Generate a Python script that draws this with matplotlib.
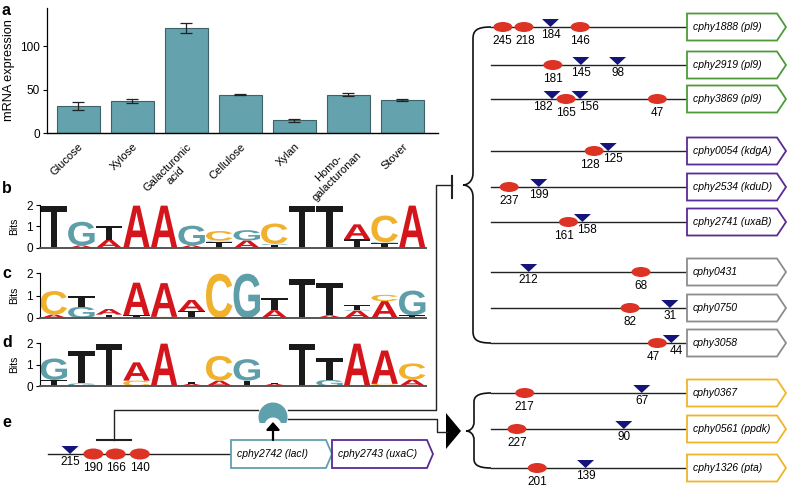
import numpy as np
import matplotlib
matplotlib.use('Agg')
import matplotlib.pyplot as plt
from matplotlib.textpath import TextPath
from matplotlib.font_manager import FontProperties
from matplotlib.patches import PathPatch, Ellipse, Polygon
from matplotlib.path import Path

plt.rcParams['font.family'] = ['Liberation Sans', 'DejaVu Sans']

# ---- panel a: expression of cphy2742 on each substrate
substrates = ['Glucose', 'Xylose', 'Galacturonic\nacid', 'Cellulose', 'Xylan',
              'Homo-\ngalacturonan', 'Stover']
expression = [31, 36.5, 121, 44, 14.5, 44, 38]
expression_err = [4.5, 2.2, 5.5, 0.5, 1.8, 1.5, 1.0]

# ---- panels b-d: sequence logos, each column bottom -> top (letter, bits)
logo_b = [[('T', 1.97)], [('A', 0.12), ('G', 1.1)], [('A', 0.38), ('T', 0.65)],
          [('A', 1.97)], [('A', 1.97)], [('A', 0.12), ('G', 0.92)],
          [('T', 0.3), ('G', 0.04), ('C', 0.45)], [('A', 0.35), ('G', 0.48)],
          [('T', 0.15), ('G', 0.04), ('C', 0.95)], [('T', 1.97)], [('T', 1.97)],
          [('T', 0.4), ('A', 0.7)], [('T', 0.22), ('G', 0.04), ('C', 1.25)], [('A', 1.97)]]
logo_c = [[('A', 0.15), ('C', 1.05)], [('G', 0.5), ('T', 0.48)], [('T', 0.15), ('A', 0.25)],
          [('T', 0.12), ('A', 1.45)], [('C', 0.05), ('A', 1.5)], [('T', 0.3), ('A', 0.5)],
          [('C', 1.97)], [('G', 1.97)], [('A', 0.35), ('T', 0.52)], [('C', 0.04), ('T', 1.7)],
          [('A', 0.12), ('T', 1.45)], [('A', 0.33), ('G', 0.03), ('T', 0.2)],
          [('A', 0.75), ('C', 0.28)], [('T', 0.12), ('G', 1.1)]]
logo_d = [[('T', 0.28), ('G', 1.0)], [('G', 0.12), ('T', 1.5)], [('T', 1.97)],
          [('C', 0.25), ('A', 0.85)], [('A', 1.97)], [('A', 0.1), ('T', 0.08)],
          [('A', 0.25), ('C', 1.15)], [('T', 0.25), ('G', 1.0)], [('A', 0.1), ('T', 0.05)],
          [('T', 1.97)], [('G', 0.28), ('T', 1.0)], [('A', 1.97)],
          [('C', 0.1), ('A', 1.55)], [('A', 0.3), ('C', 0.75)]]

# ---- right side: promoters with binding sites (bp upstream)
genes = ['cphy1888', 'cphy2919', 'cphy3869', 'cphy0054', 'cphy2534', 'cphy2741',
         'cphy0431', 'cphy0750', 'cphy3058', 'cphy0367', 'cphy0561', 'cphy1326']
gene_names = ['pl9', 'pl9', 'pl9', 'kdgA', 'kduD', 'uxaB', '', '', '', '', 'ppdk', 'pta']
gene_group = [0, 0, 0, 1, 1, 1, 2, 2, 2, 3, 3, 3]
red_sites = [[245, 218, 146], [181], [165, 47], [128], [237], [161], [68], [82], [47],
             [217], [227], [201]]
blue_sites = [[184], [145, 98], [182, 156], [125], [199], [158], [212], [31], [44],
              [67], [90], [139]]

# ---- panel e: cphy2742 operon
e_red_sites = [190, 166, 140]
e_blue_sites = [215]
e_genes = ['cphy2742', 'cphy2743']
e_names = ['lacI', 'uxaC']

# styles
W, H = 788, 490
BAR_COLOR = '#64a2ae'
LETTER_COLORS = {'A': '#d4151b', 'C': '#f0b22e', 'G': '#5e9ea9', 'T': '#1a1a1a'}
GROUP_COLORS = ['#4e9a3a', '#5a2a96', '#8c8c8c', '#f0b429']
RED = '#dc3325'
NAVY = '#14147a'
TEAL = '#5fa0ad'
LETTER_FONT = FontProperties(family='Liberation Sans', weight='bold')

fig = plt.figure(figsize=(W / 100, H / 100), dpi=100)


def px_axes(x0, y0, x1, y1):
    return fig.add_axes([x0 / W, 1 - y1 / H, (x1 - x0) / W, (y1 - y0) / H])


# panel a
ax = px_axes(47, 8, 438, 133)
xpos = np.arange(len(substrates))
ax.bar(xpos, expression, width=0.8, color=BAR_COLOR, edgecolor='#3e6269', lw=0.8,
       yerr=expression_err, capsize=4,
       error_kw=dict(elinewidth=0.9, capthick=0.9, ecolor='#222222'))
ax.set_xlim(-0.58, 6.66)
ax.set_ylim(0, 143.7)
ax.set_yticks([0, 50, 100])
ax.set_xticks(xpos)
ax.set_xticklabels(substrates, rotation=45, ha='right', va='top',
                   rotation_mode='anchor', fontsize=8, multialignment='center')
ax.tick_params(axis='x', length=0, pad=6)
ax.tick_params(axis='y', length=3, width=0.8, labelsize=8.5, pad=2)
for s in ['top', 'right']:
    ax.spines[s].set_visible(False)
ax.spines['left'].set_linewidth(0.9)
ax.spines['bottom'].set_linewidth(1.0)
ax.set_ylabel('mRNA expression', fontsize=9.2, labelpad=4)


# panels b-d
def draw_logo(columns, y_top, y_bot):
    lax = px_axes(40, y_top, 426, y_bot)
    for i, col in enumerate(columns):
        base = 0.0
        for ch, h in col:
            tp = TextPath((0, 0), ch, size=1, prop=LETTER_FONT)
            bb = tp.get_extents()
            v = tp.vertices.copy()
            v[:, 0] = i + 0.52 + (v[:, 0] - bb.x0) / bb.width * 0.96
            v[:, 1] = base + (v[:, 1] - bb.y0) / bb.height * h
            lax.add_patch(PathPatch(Path(v, tp.codes), fc=LETTER_COLORS[ch],
                                    ec='none', lw=0))
            base += h
    lax.set_xlim(0.5, len(columns) + 0.5)
    lax.set_ylim(0, 2)
    lax.set_yticks([0, 1, 2])
    lax.set_xticks([])
    for s in ['top', 'right']:
        lax.spines[s].set_visible(False)
    lax.spines['bottom'].set_color('#555555')
    lax.spines['bottom'].set_linewidth(1.4)
    lax.spines['left'].set_linewidth(0.8)
    lax.tick_params(axis='y', length=3, width=0.8, labelsize=8.5, pad=2)
    lax.set_ylabel('Bits', fontsize=7.5, labelpad=5)
    lax.patch.set_alpha(0)
    return lax


draw_logo(logo_b, 205, 248)
draw_logo(logo_c, 273, 318)
draw_logo(logo_d, 343, 386)

# overlay in pixel coordinates
ov = fig.add_axes([0, 0, 1, 1])
ov.set_xlim(0, W)
ov.set_ylim(H, 0)
ov.axis('off')
ov.patch.set_alpha(0)

for lab, (lx, ly) in zip('abcde', [(2, 15), (2, 193), (2, 278), (2, 347), (2, 427)]):
    ov.text(lx, ly, lab, fontsize=11.5, fontweight='bold', va='baseline', ha='left')

LW = 1.0


def gene_box(x0, x1, y, label, color, h=27, tip=9):
    pts = [(x0, y - h / 2), (x1, y - h / 2), (x1 + tip, y), (x1, y + h / 2), (x0, y + h / 2)]
    ov.add_patch(Polygon(pts, closed=True, fc='white', ec=color, lw=1.3, zorder=3))
    ov.text(x0 + 6, y, label, fontsize=7.5, style='italic', va='center', ha='left', zorder=4)


def gene_label(g, n):
    return g + ' (' + n + ')' if n else g


def place_sites(reds, blues, scale, min_sep=14):
    items = [(scale(p), p, 'r') for p in reds] + [(scale(p), p, 'b') for p in blues]
    items.sort()
    out = []
    for x, p, k in items:
        if out and x - out[-1][0] < min_sep and k != out[-1][2]:
            x = out[-1][0] + min_sep
        out.append((x, p, k))
    return out


def spread_labels(xs, gap=23):
    groups = [[x] for x in xs]
    while True:
        pos = []
        for g in groups:
            c = np.mean(g)
            pos.append([c + (i - (len(g) - 1) / 2) * gap for i in range(len(g))])
        for i in range(len(groups) - 1):
            if pos[i + 1][0] - pos[i][-1] < gap:
                groups[i] = groups[i] + groups.pop(i + 1)
                break
        else:
            return [x for p in pos for x in p]


def draw_sites(y, reds, blues, scale, ew=19, eh=10, tw=17, th=8):
    marks = place_sites(reds, blues, scale)
    label_x = spread_labels([m[0] for m in marks])
    for (x, p, k), lx in zip(marks, label_x):
        if k == 'r':
            ov.add_patch(Ellipse((x, y), ew, eh, fc=RED, ec='none', zorder=4))
            ov.text(lx, y + 8, str(p), fontsize=8.5, ha='center', va='top')
        else:
            ov.add_patch(Polygon([(x - tw / 2, y - th), (x + tw / 2, y - th), (x, y)],
                                 closed=True, fc=NAVY, ec='none', zorder=5))
            ov.text(lx, y + 2, str(p), fontsize=8.5, ha='center', va='top')


row_y = [27, 65, 99, 151, 187, 222, 272, 308, 343, 393, 429, 468]
right_scale = lambda p: 694 - 0.78 * p
for y, g, n, grp, rs, bs in zip(row_y, genes, gene_names, gene_group, red_sites, blue_sites):
    ov.plot([491, 687], [y, y], color='#222222', lw=LW, zorder=2)
    gene_box(687, 777, y, gene_label(g, n), GROUP_COLORS[grp])
    draw_sites(y, rs, bs, right_scale)


def brace(y0, ym, y1, x_end=491, x_v=473, x_tip=463, r=12):
    verts = [(x_end, y0), (x_v + 3, y0), (x_v, y0 + 4), (x_v, y0 + r),
             (x_v, ym - r),
             (x_v, ym - 3), (x_tip + 4, ym), (x_tip, ym),
             (x_tip + 4, ym), (x_v, ym + 3), (x_v, ym + r),
             (x_v, y1 - r),
             (x_v, y1 - 4), (x_v + 3, y1), (x_end, y1)]
    codes = [Path.MOVETO, Path.CURVE4, Path.CURVE4, Path.CURVE4, Path.LINETO,
             Path.CURVE4, Path.CURVE4, Path.CURVE4, Path.CURVE4, Path.CURVE4, Path.CURVE4,
             Path.LINETO, Path.CURVE4, Path.CURVE4, Path.CURVE4]
    ov.add_patch(PathPatch(Path(verts, codes), fc='none', ec='#111111', lw=1.2))


brace(row_y[0], 185, row_y[8])
brace(row_y[9], 431, row_y[11], x_v=474, x_tip=466, r=9)

# panel e promoter
ey = 454
e_scale = lambda p: 270 - 0.93 * p
ov.plot([48, 231], [ey, ey], color='#222222', lw=LW, zorder=2)
draw_sites(ey, e_red_sites, e_blue_sites, e_scale, ew=20, eh=11)
gene_box(231, 326, ey, gene_label(e_genes[0], e_names[0]), TEAL, h=28, tip=6)
gene_box(332, 427, ey, gene_label(e_genes[1], e_names[1]), GROUP_COLORS[1], h=28, tip=6)

# LacI protein (crescent)
cx, cy, R, r_in, cy_in, y_cut = 273, 417, 14.5, 8.5, 426, 423
dy = y_cut - cy
t0 = np.arcsin(dy / R)
th = np.linspace(t0, np.pi - t0 - 2 * np.pi, 80)
outer = np.c_[cx + R * np.cos(th), cy + R * np.sin(th)]
dyi = y_cut - cy_in
p0 = np.arcsin(dyi / r_in)
ph = np.linspace(np.pi - p0 - 2 * np.pi, p0, 60)
inner = np.c_[cx + r_in * np.cos(ph), cy_in + r_in * np.sin(ph)]
ov.add_patch(Polygon(np.vstack([outer, inner]), closed=True, fc=TEAL, ec='none', zorder=5))

ov.annotate('', xy=(cx, 422), xytext=(cx, 440),
            arrowprops=dict(arrowstyle='-|>,head_length=0.45,head_width=0.4',
                            color='black', lw=1.6, shrinkA=0, shrinkB=0), zorder=6)

# repression of own promoter
ov.plot([258, 114, 114], [410, 410, 440], color='#222222', lw=LW)
ov.plot([97, 131], [440, 440], color='#222222', lw=1.5)
# repression of the right-hand promoters
ov.plot([288, 436, 436, 452], [410, 410, 185, 185], color='#222222', lw=LW)
ov.plot([452, 452], [176, 198], color='#222222', lw=1.5)
# activation
ov.plot([288, 437, 437, 447], [419, 419, 432, 432], color='#222222', lw=LW)
ov.add_patch(Polygon([(446, 413), (446, 449), (461, 431)], closed=True, fc='black',
                     ec='none'))

fig.savefig('out.png', dpi=100)
